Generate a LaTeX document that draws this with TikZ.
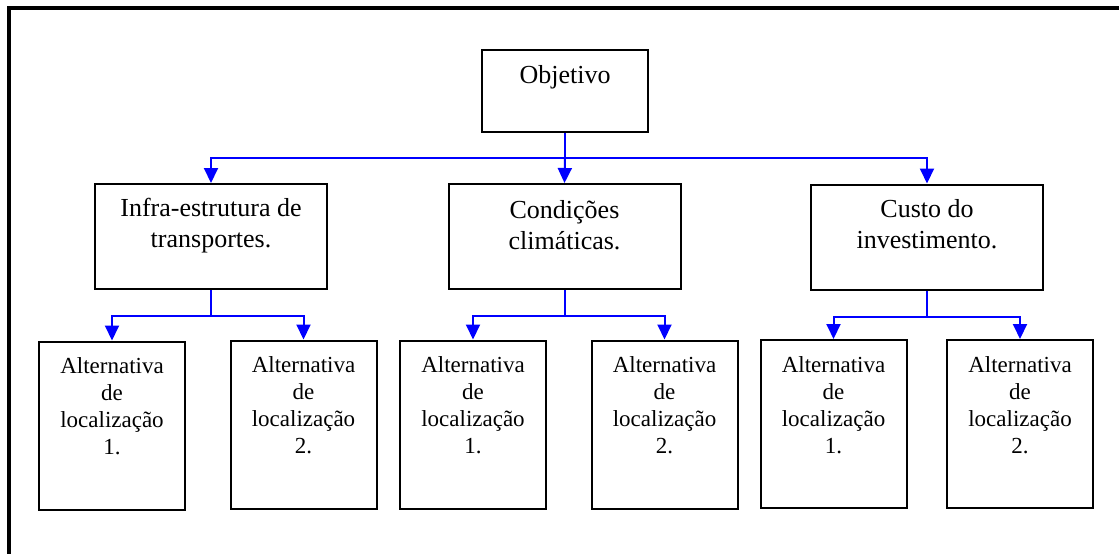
\documentclass[tikz,border=0pt]{standalone}
\usepackage{fontspec}
\setmainfont{Liberation Serif}
\usetikzlibrary{arrows.meta}
\definecolor{linkblue}{RGB}{0,0,255}
\tikzset{
  box/.style 2 args={draw=black, line width=2pt, rectangle, inner sep=0pt,
    minimum width=#1, minimum height=#2},
  topbox/.style={box={232pt}{105pt}},
  leafbox/.style={box={146pt}{168pt}},
  lbl/.style={anchor=north, inner sep=0pt, align=center,
    font=\fontsize{23}{27}\selectfont},
  biglbl/.style={lbl, font=\fontsize{26}{31}\selectfont},
  conn/.style={draw=linkblue, line width=2pt,
    -{Triangle[length=15pt,width=14pt]}},
  seg/.style={draw=linkblue, line width=2pt}
}
\begin{document}
\begin{tikzpicture}[x=1pt, y=-1pt]
\useasboundingbox (0,0) rectangle (1119,554);
% outer frame (top and left edges)
\draw[line width=4pt] (1119,8) -- (9,8) -- (9,554);

% boxes
\node[box={166pt}{82pt}] (obj) at (565,91) {};
\node[topbox] (infra) at (211,236.5) {};
\node[topbox] (cond) at (564.5,236.5) {};
\node[topbox] (cust) at (927,237) {};

\node[leafbox] (a1) at (112,425.5) {};
\node[leafbox] (a2) at (303.5,424.5) {};
\node[leafbox] (a3) at (473,424.5) {};
\node[leafbox] (a4) at (664.5,424.5) {};
\node[leafbox] (a5) at (833.5,424) {};
\node[leafbox] (a6) at (1020,424) {};

% labels
\node[biglbl] (tobj) at ([yshift=-16pt]obj.north) {Objetivo};
\node[biglbl] (tinfra) at ([yshift=-15pt]infra.north) {Infra-estrutura de\\transportes.};
\node[biglbl] (tcond) at ([yshift=-17pt]cond.north) {Condições\\climáticas.};
\node[biglbl] (tcust) at ([yshift=-16pt]cust.north) {Custo do\\investimento.};
\foreach \n/\k in {a1/1, a2/2, a3/1, a4/2, a5/1, a6/2}{
  \node[lbl] (t\n) at ([yshift=-17pt]\n.north) {Alternativa\\de\\localização\\\k.};
}

% connectors from the objective
\coordinate (j0) at (565,158);
\draw[seg] (obj.south) -- (j0);
\draw[conn] (j0) -| (infra.north);
\draw[conn] (j0) -- (cond.north);
\draw[conn] (j0) -| (cust.north);

% connectors to the alternatives
\foreach \p/\l/\r in {infra/a1/a2, cond/a3/a4, cust/a5/a6}{
  \coordinate (j\p) at ([yshift=-26pt]\p.south);
  \draw[seg] (\p.south) -- (j\p);
  \draw[conn] (j\p) -| (\l.north);
  \draw[conn] (j\p) -| (\r.north);
}
\end{tikzpicture}
\end{document}
